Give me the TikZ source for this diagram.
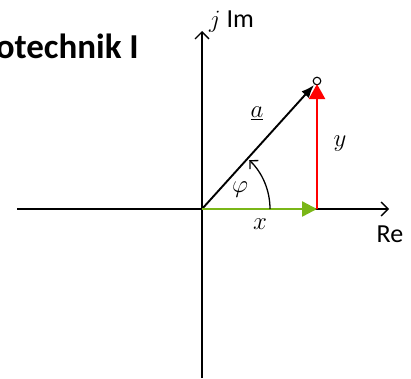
\documentclass[tikz,border=0pt]{standalone}
\usepackage{fontspec}
\setmainfont{Carlito}
\usetikzlibrary{arrows.meta,calc}
\definecolor{grn}{RGB}{122,182,24}
\definecolor{rd}{RGB}{255,0,0}
\begin{document}
\begin{tikzpicture}[x=1pt,y=-1pt,
  axis/.style={line width=1.3pt,-{Straight Barb[length=7pt,width=14pt,line width=1.3pt]}},
  vec/.style={line width=2.4pt},
  lbl/.style={inner sep=0pt,font=\fontsize{29}{29}\selectfont},
  txt/.style={inner sep=0pt,font=\fontsize{26}{26}\selectfont}]
\useasboundingbox (0,0) rectangle (411,378);
\clip (0,0) rectangle (411,378);
\coordinate (O) at (202,209);
\coordinate (ybot) at (202,378);
\coordinate (ytop) at (202,31);
\coordinate (xl) at (17,209);
\coordinate (xr) at (389,209);
\coordinate (P) at (317,81);
\coordinate (A) at (314,85);
\coordinate (X) at (317,209);
\coordinate (Y) at (317,84);
\coordinate (S) at (270,209);
\draw[axis] (ybot) -- (ytop);
\draw[axis] (xl) -- (xr);
\draw[line width=1.9pt,-{Latex[length=13pt,width=10pt]}] (O) -- (A);
\draw[line width=1.1pt] (P) circle (3.8);
\draw[vec,grn,-{Triangle[length=15pt,width=15pt]}] (O) -- (X);
\draw[vec,rd,-{Triangle[length=15pt,width=16pt]}] (X) -- (Y);
\draw[line width=1.3pt,-{Straight Barb[length=6pt,width=12pt,line width=1.3pt]}] (S) arc[start angle=0,end angle=-46,radius=68];
\node[lbl] (la) at (257,113) {$\underline{a}$};
\node[lbl] (ly) at (340,144) {$y$};
\node[lbl] (lphi) at (240,190) {$\varphi$};
\node[lbl] (lx) at (260,224) {$x$};
\node[txt,anchor=base] (lre) at (390,242) {Re};
\node[txt,anchor=base west] (lim) at (209,27) {\fontsize{29}{29}\selectfont$j$\fontsize{26}{26}\selectfont\ Im};
\node[inner sep=0pt,anchor=base east,font=\fontsize{35}{35}\selectfont\bfseries] (title) at (139,58) {otechnik I};
\end{tikzpicture}
\end{document}
